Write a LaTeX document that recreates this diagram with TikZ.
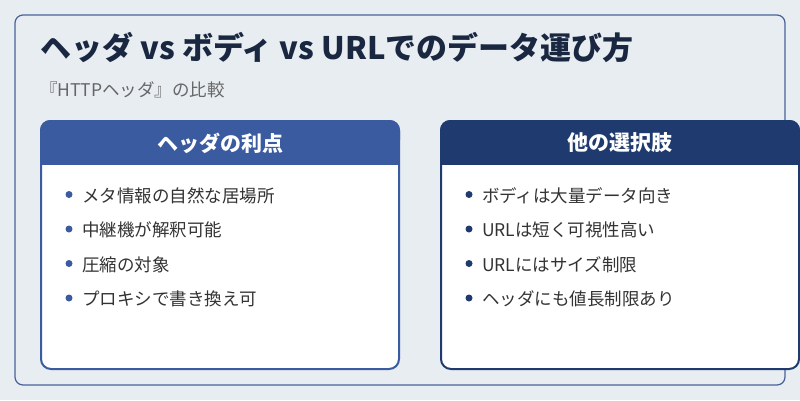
\documentclass[tikz,border=0pt]{standalone}
\usepackage{fontspec}
\setmainfont{Noto Sans CJK JP}
\begin{document}
\begin{tikzpicture}[x=1pt,y=-1pt,
  item/.style={anchor=west,font=\fontsize{17.5}{19}\selectfont,text=black!80},
  dot/.style={circle,inner sep=0pt,minimum size=7pt},
  htxt/.style={text=white,font=\fontsize{21}{24}\selectfont\bfseries}]
\definecolor{bg}{HTML}{E8EDF2}
\definecolor{cA}{HTML}{3A5BA0}
\definecolor{cB}{HTML}{1F3A6E}
\definecolor{ttl}{HTML}{1A2740}
\useasboundingbox (0,0) rectangle (800,400);
\fill[bg] (0,0) rectangle (800,400);
\draw[draw=cA!80!gray,line width=1.2pt,rounded corners=8pt] (15,15) rectangle (785,385);
\node[anchor=west,text=ttl,font=\fontsize{31}{34}\selectfont\bfseries,inner sep=0pt] (title) at (40,47) {ヘッダ vs ボディ vs URLでのデータ運び方};
\node[anchor=west,text=black!60,font=\fontsize{17.5}{19}\selectfont,inner sep=0pt] (sub) at (40,90) {『HTTPヘッダ』の比較};
% left card
\draw[fill=white,draw=cA,line width=2pt,rounded corners=10pt] (41,121) rectangle (399,369);
\fill[cA,rounded corners=10pt] (40,120) rectangle (400,150);
\fill[cA] (40,140) rectangle (400,165);
\node[htxt] (lh) at (220,143) {ヘッダの利点};
% right card
\draw[fill=white,draw=cB,line width=2pt,rounded corners=10pt] (441,121) rectangle (799,369);
\fill[cB,rounded corners=10pt] (440,120) rectangle (800,150);
\fill[cB] (440,140) rectangle (800,165);
\node[htxt] (rh) at (620,143) {他の選択肢};
\foreach \t [count=\i] in {メタ情報の自然な居場所,中継機が解釈可能,圧縮の対象,プロキシで書き換え可}{
  \node[dot,fill=cA] (ld\i) at (69,{160+34.5*\i}) {};
  \node[item,inner sep=0pt] (lt\i) at (82,{161+34.5*\i}) {\t};
}
\foreach \t [count=\i] in {ボディは大量データ向き,URLは短く可視性高い,URLにはサイズ制限,ヘッダにも値長制限あり}{
  \node[dot,fill=cB] (rd\i) at (469,{160+34.5*\i}) {};
  \node[item,inner sep=0pt] (rt\i) at (482,{161+34.5*\i}) {\t};
}
\end{tikzpicture}
\end{document}
